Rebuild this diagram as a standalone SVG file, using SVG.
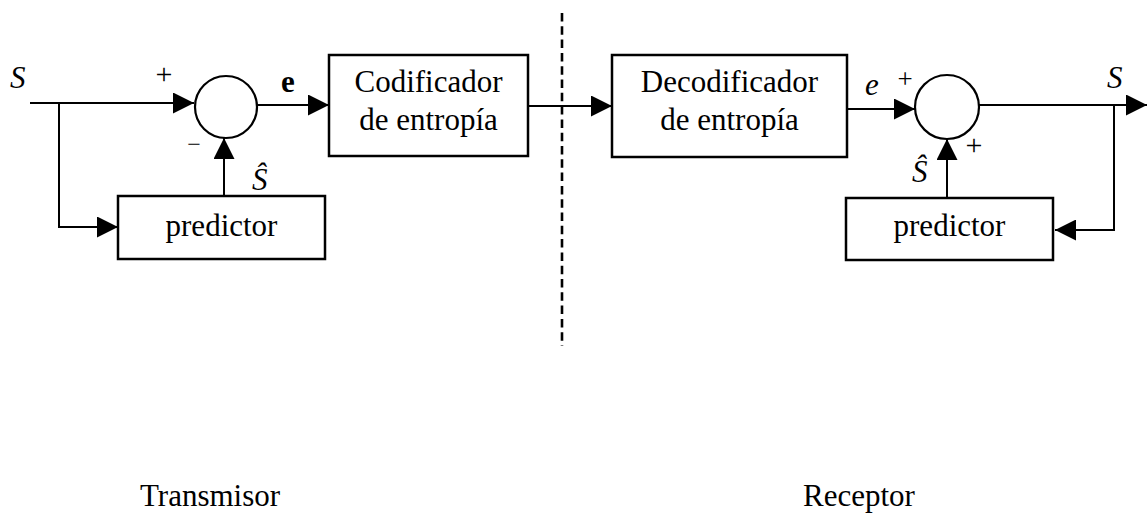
<svg xmlns="http://www.w3.org/2000/svg" width="1147" height="513" viewBox="0 0 1147 513">
<style>
.box{fill:#fff;stroke:#000;stroke-width:2.5}
.sum{fill:#fff;stroke:#000;stroke-width:2.2}
.ln{fill:none;stroke:#000;stroke-width:2}
.t{font-family:"Liberation Serif","Times New Roman",serif;font-size:31px;fill:#000}
.c{text-anchor:middle}
.i{font-style:italic}
.sym{font-size:30px}
</style>
<defs>
<marker id="ah" markerUnits="userSpaceOnUse" markerWidth="21" markerHeight="21" refX="21" refY="10.5" orient="auto">
<path d="M0,0 L21,10.5 L0,21 z" fill="#000"/>
</marker>
</defs>
<rect width="1147" height="513" fill="#fff"/>
<g id="connectors">
<path class="ln" d="M30,103 H194" marker-end="url(#ah)"/>
<path class="ln" d="M59,103 V227 H118" marker-end="url(#ah)"/>
<path class="ln" d="M224,196 V138" marker-end="url(#ah)"/>
<path class="ln" d="M257,105 H329" marker-end="url(#ah)"/>
<path class="ln" d="M528,106 H612" marker-end="url(#ah)"/>
<path class="ln" d="M847,109 H915" marker-end="url(#ah)"/>
<path class="ln" d="M979,105 H1147" marker-end="url(#ah)"/>
<path class="ln" d="M1114,105 V230 H1055" marker-end="url(#ah)"/>
<path class="ln" d="M947,198 V139" marker-end="url(#ah)"/>
<line x1="562" y1="13" x2="562" y2="346" stroke="#000" stroke-width="2.6" stroke-dasharray="8.5 4.8"/>
</g>
<g id="sum1">
<circle class="sum" cx="226" cy="107" r="31"/>
</g>
<g id="codificador">
<rect class="box" x="329" y="55" width="199" height="101"/>
<text class="t c" x="428.5" y="92">Codificador</text>
<text class="t c" x="428.5" y="130">de entropía</text>
</g>
<g id="predictor1">
<rect class="box" x="118" y="196" width="207" height="63"/>
<text class="t c" x="221.5" y="236">predictor</text>
</g>
<g id="decodificador">
<rect class="box" x="612" y="55" width="235" height="102"/>
<text class="t c" x="729.5" y="92">Decodificador</text>
<text class="t c" x="729.5" y="130">de entropía</text>
</g>
<g id="sum2">
<circle class="sum" cx="947" cy="107" r="32"/>
</g>
<g id="predictor2">
<rect class="box" x="846" y="198" width="207" height="62"/>
<text class="t c" x="949.5" y="236">predictor</text>
</g>
<g id="labels">
<text class="t i" x="10" y="88">S</text>
<text class="t c sym" x="164" y="84">+</text>
<text class="t" x="281" y="92" style="font-weight:bold">e</text>
<text class="t c" x="194" y="152" style="font-size:24px">−</text>
<text class="t i" x="252" y="190">Ŝ</text>
<text class="t i" x="865" y="95">e</text>
<text class="t c" x="905" y="88" style="font-size:27px">+</text>
<text class="t c sym" x="974" y="155">+</text>
<text class="t i" x="912" y="182">Ŝ</text>
<text class="t i" x="1107" y="88">S</text>
<text class="t" x="140" y="506">Transmisor</text>
<text class="t" x="803" y="506">Receptor</text>
</g>
</svg>
